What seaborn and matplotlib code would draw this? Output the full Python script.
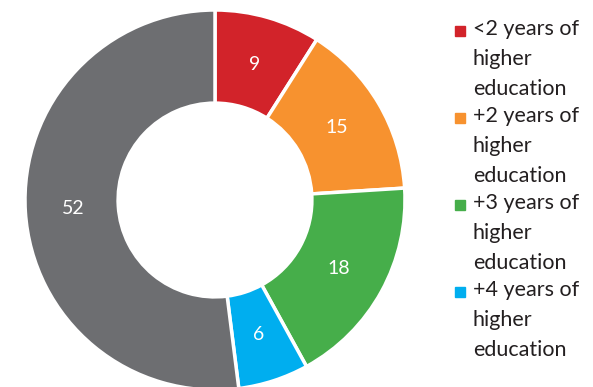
import matplotlib
matplotlib.use("Agg")
import matplotlib.pyplot as plt
import seaborn as sns
from matplotlib.patches import Rectangle

sns.set_theme(style="white")
plt.rcParams['font.family'] = ['Lato', 'DejaVu Sans']

categories = ["<2 years of higher education", "+2 years of higher education",
              "+3 years of higher education", "+4 years of higher education", "Other"]
values = [9, 15, 18, 6, 52]
colors = ["#d2232a", "#f7922f", "#46ae4a", "#00aeef", "#6d6e71"]
legend_labels = ["<2 years of\nhigher\neducation", "+2 years of\nhigher\neducation",
                 "+3 years of\nhigher\neducation", "+4 years of\nhigher\neducation"]

W, H = 593, 387
fig = plt.figure(figsize=(W / 100, H / 100), dpi=100)
cx, cy, R = 215, 200, 190
ax = fig.add_axes([(cx - R) / W, (H - cy - R) / H, 2 * R / W, 2 * R / H])
wedges, texts = ax.pie(values, colors=colors, startangle=90, counterclock=False,
                       labels=[str(v) for v in values], labeldistance=0.745,
                       wedgeprops=dict(width=0.49, edgecolor="white", linewidth=2.5),
                       textprops=dict(color="white", fontsize=14))
for t in texts:
    t.set_horizontalalignment("center")
    t.set_verticalalignment("center")
ax.set_xlim(-1, 1)
ax.set_ylim(-1, 1)
ax.set_axis_off()

# legend
y0 = 31
step = 87
for i, lab in enumerate(legend_labels):
    y = y0 + i * step
    fig.patches.append(Rectangle((455 / W, (H - y - 5) / H), 10 / W, 10 / H,
                                 transform=fig.transFigure, color=colors[i], figure=fig))
    fig.text(473 / W, (H - y + 12) / H, lab, fontsize=15.5, color="#231f20",
             ha="left", va="top", linespacing=1.62,
             transform=fig.transFigure)

fig.savefig("out.png", dpi=100)
